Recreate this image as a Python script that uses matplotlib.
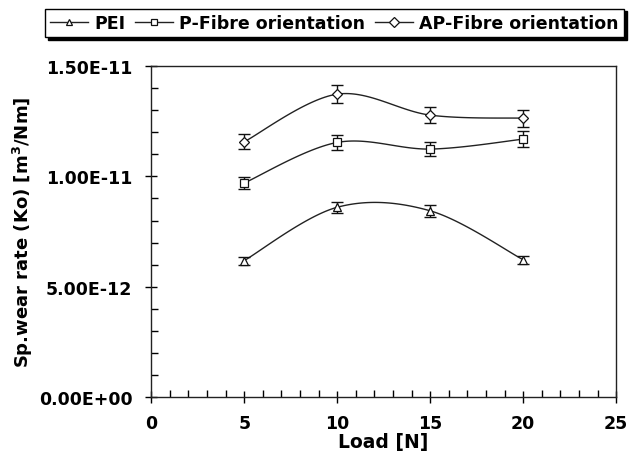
import numpy as np
import matplotlib
matplotlib.use("Agg")
import matplotlib.pyplot as plt
from matplotlib.ticker import FixedLocator, FuncFormatter

plt.rcParams['font.family'] = ['DejaVu Sans']
plt.rcParams['font.weight'] = 'bold'

loads = [5, 10, 15, 20]
pei = [6.18e-12, 8.60e-12, 8.44e-12, 6.22e-12]
pei_err = [0.18e-12, 0.25e-12, 0.26e-12, 0.19e-12]
p_fibre = [9.70e-12, 11.54e-12, 11.24e-12, 11.69e-12]
p_err = [0.28e-12, 0.34e-12, 0.33e-12, 0.37e-12]
ap_fibre = [11.57e-12, 13.73e-12, 12.78e-12, 12.64e-12]
ap_err = [0.34e-12, 0.40e-12, 0.38e-12, 0.39e-12]
labels = ['PEI', 'P-Fibre orientation', 'AP-Fibre orientation']
markers = ['^', 's', 'D']
x_major = [0, 5, 10, 15, 20, 25]
y_major = [0.0, 5e-12, 1e-11, 1.5e-11]


def smooth(xs, ys, n=40):
    P = np.column_stack([xs, ys]).astype(float)
    m = len(P)
    out = []
    for i in range(m - 1):
        p0 = P[max(i - 1, 0)]
        p1 = P[i]
        p2 = P[i + 1]
        p3 = P[min(i + 2, m - 1)]
        c1 = p1 + (p2 - p0) / 6.0
        c2 = p2 - (p3 - p1) / 6.0
        t = np.linspace(0, 1, n)[:, None]
        seg = ((1 - t) ** 3) * p1 + 3 * ((1 - t) ** 2) * t * c1 + 3 * (1 - t) * t ** 2 * c2 + t ** 3 * p2
        out.append(seg if i == 0 else seg[1:])
    pts = np.vstack(out)
    return pts[:, 0], pts[:, 1]


fig = plt.figure(figsize=(6.3, 4.6), dpi=100)
ax = fig.add_axes([0.240, 0.135, 0.738, 0.719])

handles = []
for ys, es, mk, lab in zip([pei, p_fibre, ap_fibre], [pei_err, p_err, ap_err], markers, labels):
    sx, sy = smooth(loads, ys)
    ax.plot(sx, sy, color='#222222', lw=1.0, zorder=2)
    ms = 6 if mk != 'D' else 5.5
    ax.errorbar(loads, ys, yerr=es, fmt='none', ecolor='#111111', elinewidth=1.0,
                capsize=4, capthick=1.0, zorder=3)
    ax.plot(loads, ys, linestyle='none', marker=mk, markersize=ms, markerfacecolor='white',
            markeredgecolor='#111111', markeredgewidth=0.9, zorder=4)
    h, = ax.plot([], [], color='#222222', lw=1.0, marker=mk, markersize=5,
                 markerfacecolor='white', markeredgecolor='#111111', markeredgewidth=0.9)
    handles.append(h)

ax.set_xlim(0, 25)
ax.set_ylim(0, 1.5e-11)
ax.xaxis.set_major_locator(FixedLocator(x_major))
ax.xaxis.set_minor_locator(FixedLocator(np.arange(1, 25)))
ax.yaxis.set_major_locator(FixedLocator(y_major))
ax.yaxis.set_minor_locator(FixedLocator(np.arange(1, 15) * 1e-12))
ax.yaxis.set_major_formatter(FuncFormatter(lambda v, p: '%.2E' % v))
ax.tick_params(which='major', direction='inout', length=9, width=1, labelsize=12.5)
ax.tick_params(axis='y', which='major', pad=9)
ax.tick_params(axis='x', which='major', pad=8)
ax.tick_params(which='minor', direction='in', length=5, width=1)
ax.tick_params(top=False, right=False)
for lbl in ax.get_xticklabels() + ax.get_yticklabels():
    lbl.set_fontweight('bold')
for s in ax.spines.values():
    s.set_linewidth(1.0)
    s.set_color('#222222')

ax.set_xlabel('Load [N]', fontsize=13.5, fontweight='bold', labelpad=0)
ax.set_ylabel('Sp.wear rate (Ko) [m$^\\mathbf{3}$/Nm]', fontsize=13, fontweight='bold', labelpad=3)

leg = fig.legend(handles, labels, loc='center', bbox_to_anchor=(0.531, 0.948), ncol=3,
                 frameon=True, fancybox=False, edgecolor='black', framealpha=1,
                 prop={'size': 12.5, 'weight': 'bold'}, handlelength=2.2, handletextpad=0.35,
                 columnspacing=0.55, borderpad=0.3, borderaxespad=0.2,
                 shadow={'color': 'black', 'alpha': 1.0})
leg.get_frame().set_linewidth(1.0)

fig.savefig('out.png', dpi=100)
